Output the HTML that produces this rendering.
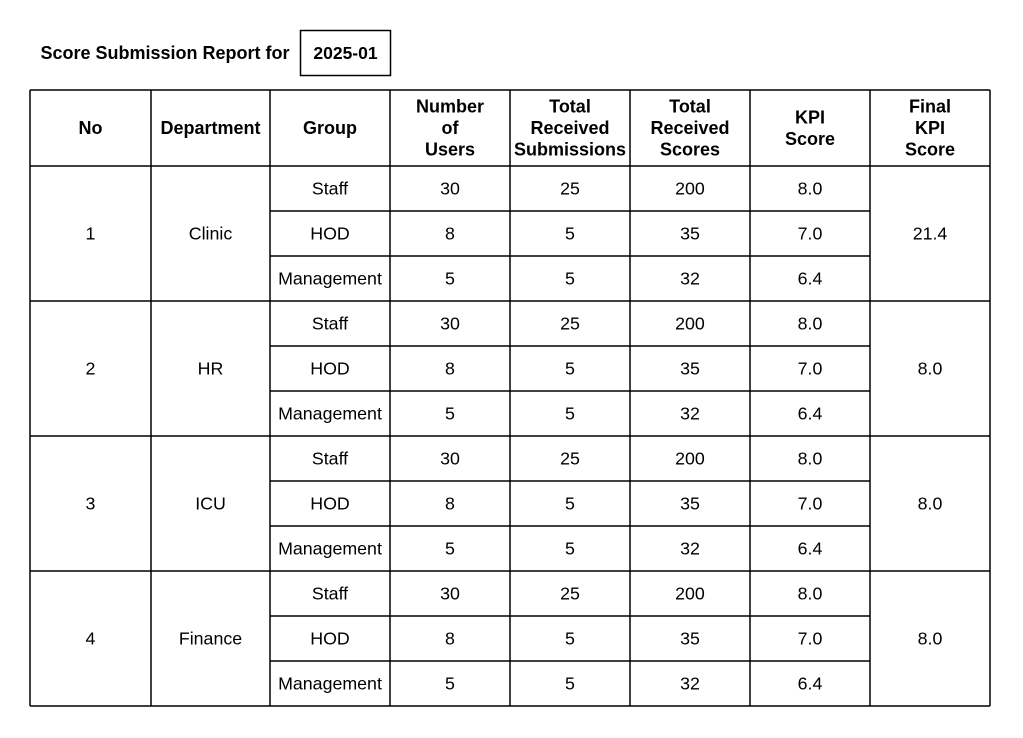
<!DOCTYPE html>
<html><head><meta charset="utf-8"><style>
html,body{margin:0;padding:0;background:#fff;}
svg{display:block;font-family:"Liberation Sans",Arial,sans-serif;}
</style></head><body>
<svg id="s" width="1023" height="738" viewBox="0 0 1023 738" xmlns="http://www.w3.org/2000/svg">
<text x="40.5" y="59" font-size="18" font-weight="bold">Score Submission Report for</text>
<rect x="300.5" y="30.5" width="90" height="45" fill="none" stroke="#000" stroke-width="1.5"/>
<text x="345.5" y="59" font-size="17.5" font-weight="bold" text-anchor="middle">2025-01</text>
<g id="grid"></g>
</svg>
<script>
const headers=[["No"],["Department"],["Group"],["Number","of","Users"],["Total","Received","Submissions"],["Total","Received","Scores"],["KPI","Score"],["Final","KPI","Score"]];
const departments=["Clinic","HR","ICU","Finance"];
const groups=["Staff","HOD","Management"];
const users=[30,8,5];
const submissions=[25,5,5];
const scores=[200,35,32];
const kpi=["8.0","7.0","6.4"];
const finalKpi=["21.4","8.0","8.0","8.0"];
const cols=[30,151,270,390,510,630,750,870,990];
const top0=90,hdrB=166,rowH=45;
const g=document.getElementById('grid');
const NS="http://www.w3.org/2000/svg";
function line(x1,y1,x2,y2){const l=document.createElementNS(NS,'line');l.setAttribute('x1',x1);l.setAttribute('y1',y1);l.setAttribute('x2',x2);l.setAttribute('y2',y2);l.setAttribute('stroke','#000');l.setAttribute('stroke-width','1.5');


g.appendChild(l);}
function txt(x,y,s,bold,name){const t=document.createElementNS(NS,'text');t.setAttribute('x',x);t.setAttribute('y',y);t.setAttribute('text-anchor','middle');t.setAttribute('font-size',bold?'18':'17.8');if(bold)t.setAttribute('font-weight','bold');t.textContent=s;


g.appendChild(t);}
const bottom=hdrB+departments.length*3*rowH;
cols.forEach(x=>line(x,top0,x,bottom));
line(cols[0],top0,cols[8],top0);
line(cols[0],hdrB,cols[8],hdrB);
headers.forEach((h,i)=>{const cx=(cols[i]+cols[i+1])/2;const mid=(top0+hdrB)/2;const lh=21.5;const y0=mid-(h.length-1)*lh/2+6;h.forEach((w,j)=>txt(cx,y0+j*lh,w,true,'header-cell'));});
departments.forEach((d,di)=>{
 const yT=hdrB+di*3*rowH,yB=yT+3*rowH;
 line(cols[0],yB,cols[8],yB);
 for(let r=1;r<3;r++)line(cols[2],yT+r*rowH,cols[7],yT+r*rowH);
 const mid=(yT+yB)/2+6;
 txt((cols[0]+cols[1])/2,mid,String(di+1),false,'row-number');
 txt((cols[1]+cols[2])/2,mid,d,false,'department-name');
 txt((cols[7]+cols[8])/2,mid,finalKpi[di],false,'final-kpi-score');
 groups.forEach((gr,r)=>{const y=yT+r*rowH+rowH/2+6;
  txt((cols[2]+cols[3])/2,y,gr,false,'group-name');
  txt((cols[3]+cols[4])/2,y,String(users[r]),false,'users-count');
  txt((cols[4]+cols[5])/2,y,String(submissions[r]),false,'submissions-count');
  txt((cols[5]+cols[6])/2,y,String(scores[r]),false,'scores-total');
  txt((cols[6]+cols[7])/2,y,kpi[r],false,'kpi-score');
 });
});
</script>
</body></html>
